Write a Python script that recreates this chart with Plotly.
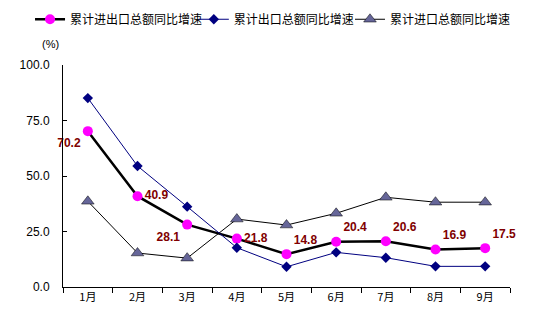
import plotly.graph_objects as go

months = ["1月", "2月", "3月", "4月", "5月", "6月", "7月", "8月", "9月"]
total = [70.2, 40.9, 28.1, 21.8, 14.8, 20.4, 20.6, 16.9, 17.5]
export = [85.1, 54.5, 36.2, 17.7, 9.1, 15.6, 13.2, 9.3, 9.3]
imports = [38.6, 15.3, 13.0, 30.6, 27.9, 33.2, 40.4, 38.2, 38.2]
ticks = [0, 25, 50, 75, 100]
tick_text = ["0.0", "25.0", "50.0", "75.0", "100.0"]
label_pos = ["bottom left", "middle right", "bottom left", "middle right",
             "top right", "top right", "top right", "top right", "top right"]

font = "Noto Sans CJK SC, sans-serif"

fig = go.Figure()
fig.add_trace(go.Scatter(
    x=months, y=total, name="累计进出口总额同比增速", legend="legend2",
    mode="lines+markers+text", cliponaxis=False,
    line=dict(color="black", width=2.5),
    marker=dict(symbol="circle", size=10, color="#FF00FF"),
    text=[f"{v:.1f}" for v in total], textposition=label_pos,
    textfont=dict(color="#800000", size=12, weight="bold",
                  family="Liberation Sans Narrow, Liberation Sans, sans-serif"),
))
fig.add_trace(go.Scatter(
    x=months, y=export, name="累计出口总额同比增速", legend="legend3",
    mode="lines+markers", cliponaxis=False,
    line=dict(color="#000080", width=1),
    marker=dict(symbol="diamond", size=8, color="#000080"),
))
fig.add_trace(go.Scatter(
    x=months, y=imports, name="累计进口总额同比增速", legend="legend4",
    mode="lines+markers", cliponaxis=False,
    line=dict(color="black", width=1),
    marker=dict(symbol="triangle-up", size=11, color="#666699",
                line=dict(color="black", width=0.5)),
))

leg = dict(orientation="h", xref="container", yref="container", y=0.94,
           xanchor="left", yanchor="middle", font=dict(size=12),
           itemwidth=30, bgcolor="rgba(0,0,0,0)")

fig.update_layout(
    width=546, height=321,
    margin=dict(l=63, r=36, t=65, b=34),
    paper_bgcolor="white", plot_bgcolor="white",
    font=dict(family=font, size=11, color="black"),
    showlegend=True,
    legend2=dict(leg, x=0.055),
    legend3=dict(leg, x=0.355),
    legend4=dict(leg, x=0.641),
    xaxis=dict(type="category", range=[-0.5, 8.5], showline=True, linecolor="black",
               linewidth=1, ticks="outside", tickson="boundaries", ticklen=5,
               tickcolor="black", showgrid=False, tickfont=dict(size=11)),
    yaxis=dict(range=[0, 100], tickvals=ticks, ticktext=tick_text, showline=True,
               linecolor="black", linewidth=1, ticks="inside", ticklen=4,
               tickcolor="black", showgrid=False, zeroline=False,
               ticklabelstandoff=10,
               tickfont=dict(size=12, family="Liberation Sans Narrow, Liberation Sans, sans-serif")),
    annotations=[dict(text="(%)", xref="paper", yref="paper", x=-0.005, y=1.06,
                      xanchor="right", yanchor="bottom", showarrow=False,
                      font=dict(size=11, family="Liberation Sans, Arial, sans-serif"))],
)

fig.write_html("out.html")
